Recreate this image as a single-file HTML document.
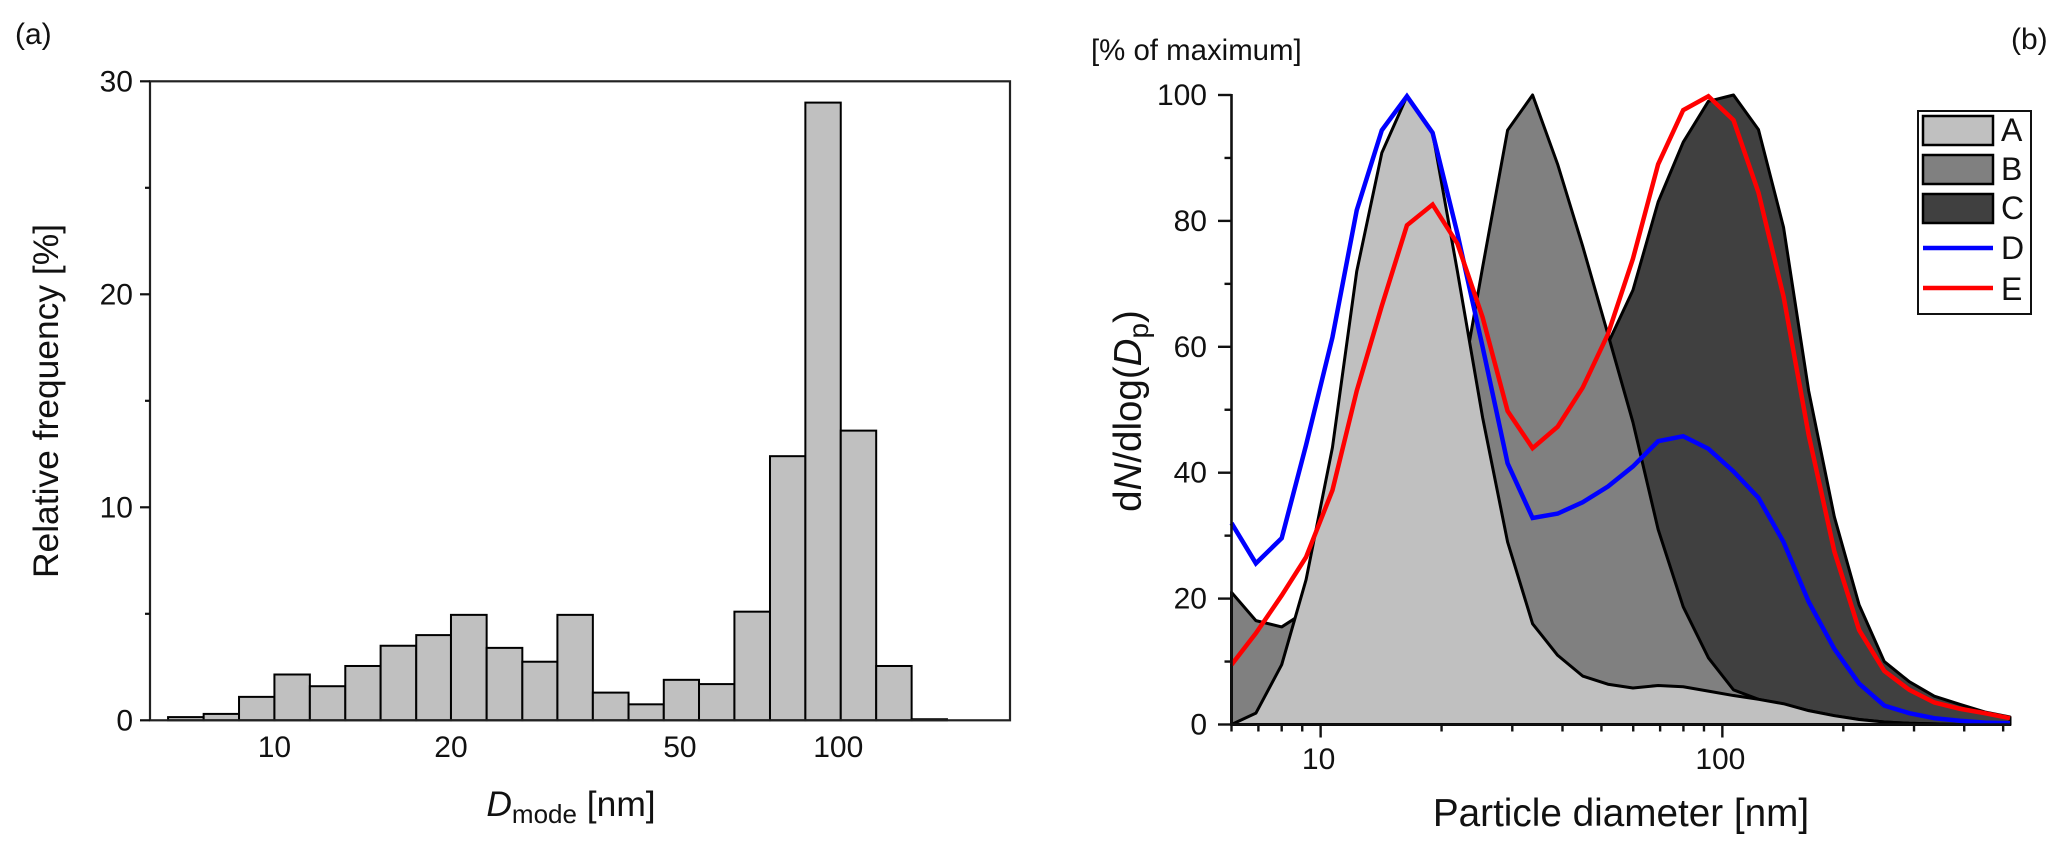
<!DOCTYPE html>
<html>
<head>
<meta charset="utf-8">
<title>Particle size distributions</title>
<style>
html,body{margin:0;padding:0;background:#fff;}
svg{display:block;}
text{font-family:"Liberation Sans",Arial,sans-serif;fill:#111;}
</style>
</head>
<body>
<svg id="fig" xmlns="http://www.w3.org/2000/svg" width="2067" height="852" viewBox="0 0 2067 852">
  <rect x="0" y="0" width="2067" height="852" fill="#fff"/>
  <g id="panelA"></g>
  <g id="panelB"></g>

  <text x="15" y="44" font-size="30">(a)</text>
  <text x="2011" y="49" font-size="30">(b)</text>
  <text x="1091" y="60" font-size="29.4">[% of maximum]</text>

  <text transform="translate(58,401) rotate(-90)" text-anchor="middle" font-size="35.4">Relative frequency [%]</text>
  <text x="571" y="816" text-anchor="middle" font-size="35.4"><tspan font-style="italic">D</tspan><tspan font-size="26" dy="7">mode</tspan><tspan dy="-7"> [nm]</tspan></text>

  <text transform="translate(1141,411) rotate(-90)" text-anchor="middle" font-size="38.5">d<tspan font-style="italic">N</tspan>/dlog(<tspan font-style="italic">D</tspan><tspan font-size="28" dy="7">p</tspan><tspan dy="-7">)</tspan></text>
  <text x="1621" y="826" text-anchor="middle" font-size="38.7">Particle diameter [nm]</text>

  <g>
    <rect x="1918" y="111" width="113" height="203" fill="#fff" stroke="#111" stroke-width="2"/>
    <rect x="1923" y="116" width="70" height="29" fill="#c0c0c0" stroke="#000" stroke-width="2.5"/>
    <rect x="1923" y="155" width="70" height="29" fill="#808080" stroke="#000" stroke-width="2.5"/>
    <rect x="1923" y="194" width="70" height="29" fill="#404040" stroke="#000" stroke-width="2.5"/>
    <line x1="1923" x2="1993" y1="248" y2="248" stroke="#0000ff" stroke-width="4.5"/>
    <line x1="1923" x2="1993" y1="288" y2="288" stroke="#ff0000" stroke-width="4.5"/>
    <text x="2001" y="141" font-size="32">A</text>
    <text x="2001" y="180" font-size="32">B</text>
    <text x="2001" y="219" font-size="32">C</text>
    <text x="2001" y="259" font-size="32">D</text>
    <text x="2001" y="300" font-size="32">E</text>
  </g>
</svg>

<script>
// ---- Panel (a): histogram data ----
var histBinLeft = [6.49,7.5,8.66,10,11.55,13.34,15.4,17.8,20.5,23.7,27.4,31.6,36.5,42.2,48.7,56.2,64.9,75,86.6,100,115.5,133.4];
var histBinRight = [7.5,8.66,10,11.55,13.34,15.4,17.8,20.5,23.7,27.4,31.6,36.5,42.2,48.7,56.2,64.9,75,86.6,100,115.5,133.4,154];
var histValues = [0.15,0.3,1.1,2.15,1.6,2.55,3.5,4.0,4.95,3.4,2.75,4.95,1.3,0.75,1.9,1.7,5.1,12.4,29,13.6,2.55,0.05];
var histXLabels = ['10','20','50','100'];
var histXLabelAt = [10,20.5,52,99];
var histYMajor = [0,10,20,30];
var histYMinor = [5,15,25];

// ---- Panel (b): size distribution data ----
var diameters = [6,6.9,8,9.2,10.7,12.3,14.2,16.4,19,21.9,25.3,29.2,33.7,38.9,44.9,51.9,59.9,69.2,79.9,92.3,106.6,123,142,164,190,219,253,292,337,390,450,520];
var seriesA = [0,1.8,9.5,23,44,72,90.8,99.8,94,72,48.8,29,16,11,7.7,6.4,5.8,6.2,6,5.3,4.6,4,3.3,2.2,1.4,0.8,0.4,0.2,0.1,0,0,0];
var seriesB = [21,16.5,15.5,18,20,25,30,35,42,50,72.6,94.4,100,89,76,62,48,31,18.7,10.6,5.5,4,3.2,2.2,1.4,0.8,0.4,0.2,0.1,0,0,0];
var seriesC = [5,5,5,6,8,10,14,18,22,26,30,33,36,40,50,60.5,69,83,92.5,99,100,94.5,79,53,33,19,10,6.8,4.5,3.2,2,1.2];
var seriesD = [32,25.6,29.6,44.4,61.5,81.7,94.4,99.8,94,78,60,41.5,32.8,33.5,35.3,37.8,41,45,45.8,43.8,40.2,36,29,19.5,12,6.5,3,1.8,1,0.6,0.3,0.2];
var seriesE = [9.5,14.5,20.5,26.6,37.2,53,66.5,79.3,82.6,76.4,64.7,49.8,43.9,47.3,53.5,62,74,89,97.6,99.8,96,84.5,68,46,27.5,15,8.5,5.5,3.5,2.5,1.8,1];
var sizeXMajor = [10,100];
var sizeXMinor = [6,7,8,9,20,30,40,50,60,70,80,90,200,300,400,500];
var sizeYMajor = [0,20,40,60,80,100];
var sizeYMinor = [10,30,50,70,90];

var NS = 'http://www.w3.org/2000/svg';
function mk(parent, tag, attrs) {
  var el = document.createElementNS(NS, tag);
  for (var k in attrs) { el.setAttribute(k, attrs[k]); }
  parent.appendChild(el);
  return el;
}
function logScale(d0, d1, r0, r1) {
  return function (v) { return r0 + (r1 - r0) * (Math.log10(v) - Math.log10(d0)) / (Math.log10(d1) - Math.log10(d0)); };
}
function linScale(d0, d1, r0, r1) {
  return function (v) { return r0 + (r1 - r0) * (v - d0) / (d1 - d0); };
}

// ---- Draw panel (a) ----
var gA = document.getElementById('panelA');
var ax = logScale(6.03, 199, 150, 1010);
var ay = linScale(0, 30, 720.3, 81.3);

histValues.forEach(function (v, i) {
  var x0 = Math.max(ax(histBinLeft[i]), 150), x1 = ax(histBinRight[i]);
  var bar = mk(gA, 'rect', {x: x0, y: ay(v), width: x1 - x0, height: ay(0) - ay(v), fill: '#c0c0c0', stroke: '#000', 'stroke-width': 2});
  
  
});

var frameA = mk(gA, 'rect', {x: 150, y: ay(30), width: 860, height: ay(0) - ay(30), fill: 'none', stroke: '#222', 'stroke-width': 2.2});



histYMajor.forEach(function (v) {
  var t = mk(gA, 'line', {x1: 140, x2: 150, y1: ay(v), y2: ay(v), stroke: '#111', 'stroke-width': 2.2});
  
  
  var l = mk(gA, 'text', {x: 133, y: ay(v) + 10, 'text-anchor': 'end', 'font-size': 30});
  
  
  l.textContent = v;
});
histYMinor.forEach(function (v) {
  var t = mk(gA, 'line', {x1: 145, x2: 150, y1: ay(v), y2: ay(v), stroke: '#111', 'stroke-width': 2.2});
  
  
});
histXLabels.forEach(function (s, i) {
  var l = mk(gA, 'text', {x: ax(histXLabelAt[i]), y: 757, 'text-anchor': 'middle', 'font-size': 30});
  
  
  l.textContent = s;
});

// ---- Draw panel (b) ----
var gB = document.getElementById('panelB');
var bx = logScale(6, 520, 1231.5, 2010);
var by = linScale(0, 100, 724.5, 95);

function areaPath(vals) {
  var d = 'M' + bx(diameters[0]) + ' ' + by(0);
  vals.forEach(function (v, i) { d += 'L' + bx(diameters[i]) + ' ' + by(v); });
  d += 'L' + bx(diameters[diameters.length - 1]) + ' ' + by(0) + 'Z';
  return d;
}
function linePath(vals) {
  var d = '';
  vals.forEach(function (v, i) { d += (i ? 'L' : 'M') + bx(diameters[i]) + ' ' + by(v); });
  return d;
}

var areaC = mk(gB, 'path', {d: areaPath(seriesC), fill: '#404040', stroke: '#000', 'stroke-width': 3, 'stroke-linejoin': 'round'});



var areaB = mk(gB, 'path', {d: areaPath(seriesB), fill: '#808080', stroke: '#000', 'stroke-width': 3, 'stroke-linejoin': 'round'});



var areaA = mk(gB, 'path', {d: areaPath(seriesA), fill: '#c0c0c0', stroke: '#000', 'stroke-width': 3, 'stroke-linejoin': 'round'});



var lineD = mk(gB, 'path', {d: linePath(seriesD), fill: 'none', stroke: '#0000ff', 'stroke-width': 4.5, 'stroke-linejoin': 'miter'});



var lineE = mk(gB, 'path', {d: linePath(seriesE), fill: 'none', stroke: '#ff0000', 'stroke-width': 4.5, 'stroke-linejoin': 'miter'});



var yAxisB = mk(gB, 'line', {x1: 1231.5, x2: 1231.5, y1: by(100) - 1, y2: by(0) + 1, stroke: '#111', 'stroke-width': 2.6});



var xAxisB = mk(gB, 'line', {x1: 1230, x2: 2010, y1: by(0), y2: by(0), stroke: '#111', 'stroke-width': 2.6});



sizeYMajor.forEach(function (v) {
  var t = mk(gB, 'line', {x1: 1218, x2: 1231.5, y1: by(v), y2: by(v), stroke: '#111', 'stroke-width': 2.4});
  
  
  var l = mk(gB, 'text', {x: 1207, y: by(v) + 10, 'text-anchor': 'end', 'font-size': 30});
  
  
  l.textContent = v;
});
sizeYMinor.forEach(function (v) {
  var t = mk(gB, 'line', {x1: 1224.5, x2: 1231.5, y1: by(v), y2: by(v), stroke: '#111', 'stroke-width': 2.4});
  
  
});
sizeXMajor.forEach(function (v) {
  var t = mk(gB, 'line', {x1: bx(v), x2: bx(v), y1: by(0), y2: by(0) + 13, stroke: '#111', 'stroke-width': 2.4});
  
  
  var l = mk(gB, 'text', {x: bx(v) - 2, y: 769, 'text-anchor': 'middle', 'font-size': 30});
  
  
  l.textContent = v;
});
sizeXMinor.forEach(function (v) {
  var t = mk(gB, 'line', {x1: bx(v), x2: bx(v), y1: by(0), y2: by(0) + 7, stroke: '#111', 'stroke-width': 2.4});
  
  
});
</script>
</body>
</html>
